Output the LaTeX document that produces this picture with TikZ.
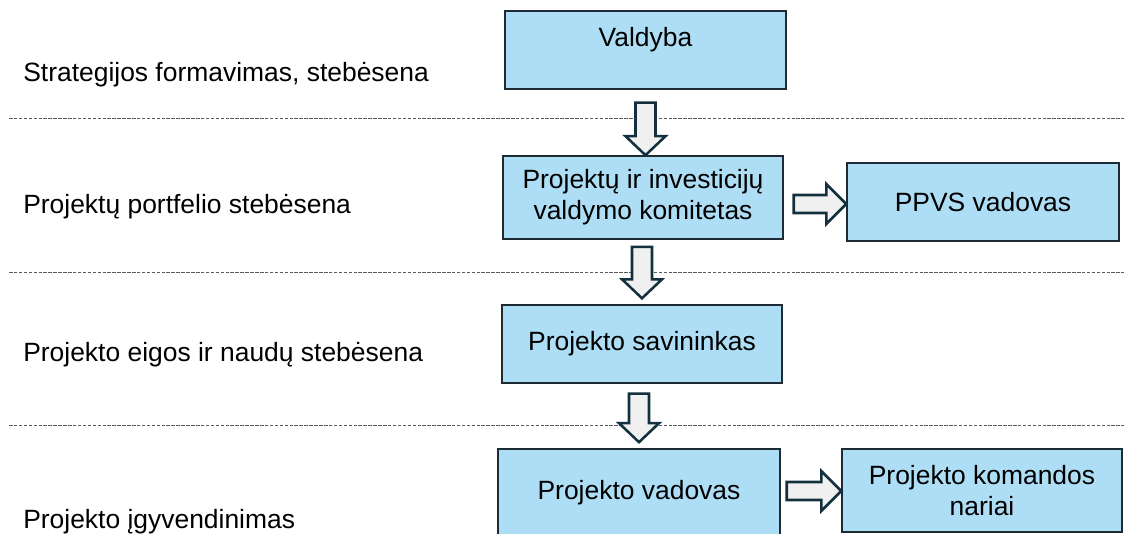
\documentclass[tikz,border=0pt]{standalone}
\usepackage{fontspec}
\setmainfont{Liberation Sans}
\usetikzlibrary{calc}
\definecolor{dezute}{HTML}{ADDEF6}
\definecolor{krastas}{HTML}{1E2B33}
\definecolor{rodkrastas}{HTML}{13303F}
\definecolor{rodfill}{HTML}{F0F0F0}
\tikzset{
	laukas/.style={draw=krastas, fill=dezute, line width=1pt, align=center, inner sep=0pt},
	rodykle/.style={draw=rodkrastas, fill=rodfill, line width=1.8pt, line join=miter},
	skirtukas/.style={draw=gray!70!black, line width=0.7pt, dash pattern=on 2.5pt off 1pt},
}
\newcommand{\zemyn}[2]{%
	\draw[rodykle] let \p1=(#1), \p2=(#2) in
	(\x1-0.25cm,\y1) -- (\x1+0.25cm,\y1) -- (\x1+0.25cm,\y2+0.475cm) -- (\x1+0.5cm,\y2+0.475cm)
	-- (\x1,\y2) -- (\x1-0.5cm,\y2+0.475cm) -- (\x1-0.25cm,\y2+0.475cm) -- cycle;}
\newcommand{\desinen}[2]{%
	\draw[rodykle] let \p1=(#1), \p2=(#2) in
	(\x1,\y1+0.225cm) -- (\x2-0.5cm,\y1+0.225cm) -- (\x2-0.5cm,\y1+0.5cm) -- (\x2,\y1)
	-- (\x2-0.5cm,\y1-0.5cm) -- (\x2-0.5cm,\y1-0.225cm) -- (\x1,\y1-0.225cm) -- cycle;}
\begin{document}
\begin{tikzpicture}[x=0.025cm, y=-0.025cm, font=\fontsize{18.8}{22}\selectfont]
	\useasboundingbox (0,0) rectangle (1124,533);
	
	\foreach \y in {118,272,425}
	\draw[skirtukas] (9,\y) -- (1124,\y);
	
	\foreach \n/\y/\t in {strat/81/{Strategijos formavimas, stebėsena}, portf/213/{Projektų portfelio stebėsena}, eigos/361/{Projekto eigos ir naudų stebėsena}, igyv/528/{Projekto įgyvendinimas}}
	\node[anchor=base west, inner sep=0pt] (\n) at (23,\y) {\t};
	
	\node[laukas, minimum width=7.03cm, minimum height=1.95cm] (valdyba) at (645.5,50) {};
	\node[anchor=base, inner sep=0pt] (valdybatxt) at (645.5,46) {Valdyba};
	\node[laukas, minimum width=7cm, minimum height=2.08cm] (komitetas) at (643,197.5) {Projektų ir investicijų\\valdymo komitetas};
	\node[laukas, minimum width=6.8cm, minimum height=1.95cm] (ppvs) at (983,202) {PPVS vadovas};
	\node[laukas, minimum width=7cm, minimum height=1.95cm] (savininkas) at (642,344) {Projekto savininkas};
	\node[laukas, minimum width=7.05cm, minimum height=2.18cm] (vadovas) at (639,492.5) {Projekto vadovas};
	\node[laukas, minimum width=7cm, minimum height=2.08cm] (komanda) at (982,490.5) {Projekto komandos\\nariai};
	
	\coordinate (r1) at ($(valdyba.south)+(0,13)$);
	\coordinate (r2) at ($(komitetas.south)+(-1,7)$);
	\coordinate (r2g) at ($(savininkas.north)+(0,-6)$);
	\coordinate (r3) at ($(savininkas.south)+(-3,10)$);
	\coordinate (r3g) at ($(vadovas.north)+(0,-6)$);
	\coordinate (r4) at ($(komitetas.east)+(10,6.5)$);
	\coordinate (r5) at ($(vadovas.east)+(6,-1.5)$);
	
	\zemyn{r1}{komitetas.north}
	\zemyn{r2}{r2g}
	\zemyn{r3}{r3g}
	\desinen{r4}{ppvs.west}
	\desinen{r5}{komanda.west}
\end{tikzpicture}
\end{document}
